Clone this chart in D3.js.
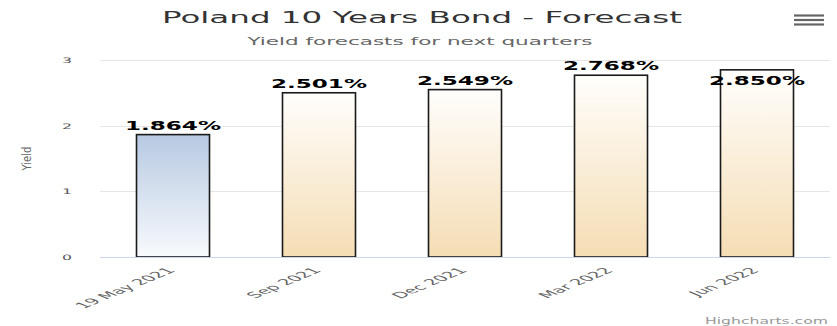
<!DOCTYPE html>
<html>
<head>
<meta charset="utf-8">
<script src="https://cdn.jsdelivr.net/npm/d3@7"></script>
<style>
html,body{margin:0;padding:0;background:#fff;}
svg{display:block;font-family:"DejaVu Sans",Verdana,sans-serif;}
</style>
</head>
<body>
<svg id="chart" width="837" height="326"></svg>
<script>
const categories = ["19 May 2021", "Sep 2021", "Dec 2021", "Mar 2022", "Jun 2022"];
const yields = [1.864, 2.501, 2.549, 2.768, 2.850];
const labels = ["1.864%", "2.501%", "2.549%", "2.768%", "2.850%"];
const yTicks = [0, 1, 2, 3];
const titleText = "Poland 10 Years Bond - Forecast";
const subtitleText = "Yield forecasts for next quarters";
const yAxisTitle = "Yield";

const svg = d3.select("#chart");
const W = 837, H = 326;
const m = {left: 100, right: 7, top: 60, bottom: 69};
const x = d3.scaleBand().domain(categories).range([m.left, W - m.right]).paddingInner(0.5).paddingOuter(0.25);
const y = d3.scaleLinear().domain([0, 3]).range([H - m.bottom, m.top]);

const defs = svg.append("defs");
const g1 = defs.append("linearGradient").attr("id", "gBlue").attr("x1", 0).attr("y1", 0).attr("x2", 0).attr("y2", 1);
g1.append("stop").attr("offset", "0%").attr("stop-color", "#b7c9e2");
g1.append("stop").attr("offset", "100%").attr("stop-color", "#f8fafd");
const g2 = defs.append("linearGradient").attr("id", "gOrange").attr("x1", 0).attr("y1", 0).attr("x2", 0).attr("y2", 1);
g2.append("stop").attr("offset", "0%").attr("stop-color", "#fffefc");
g2.append("stop").attr("offset", "100%").attr("stop-color", "#f5ddb4");

// gridlines
svg.append("g").selectAll("line").data(yTicks.filter(d => d > 0)).join("line")
  .attr("x1", m.left).attr("x2", W - m.right)
  .attr("y1", d => Math.round(y(d)) + 0.5).attr("y2", d => Math.round(y(d)) + 0.5)
  .attr("stroke", "#e6e6e6").attr("stroke-width", 1);

// y tick labels
svg.append("g").selectAll("text").data(yTicks).join("text")
  .attr("x", 62).attr("y", d => y(d) + 3)
  .attr("font-size", 7.5).attr("fill", "#555")
  .attr("textLength", 10).attr("lengthAdjust", "spacingAndGlyphs")
  .text(d => d);

// y axis title
svg.append("text")
  .attr("transform", "translate(31," + ((m.top + H - m.bottom) / 2) + ") rotate(-90)")
  .attr("text-anchor", "middle").attr("font-size", 11.5).attr("fill", "#666")
  .attr("textLength", 24).attr("lengthAdjust", "spacingAndGlyphs")
  .text(yAxisTitle);

// bars
svg.append("g").selectAll("rect").data(yields).join("rect")
  .attr("x", (d, i) => x(categories[i]))
  .attr("width", x.bandwidth())
  .attr("y", d => y(d))
  .attr("height", d => y(0) - y(d))
  .attr("fill", (d, i) => i === 0 ? "url(#gBlue)" : "url(#gOrange)")
  .attr("stroke", "#1a1a1a").attr("stroke-width", 1.6);

// x axis line
svg.append("line").attr("x1", m.left).attr("x2", W - m.right)
  .attr("y1", Math.round(y(0)) + 0.5).attr("y2", Math.round(y(0)) + 0.5)
  .attr("stroke", "#ccd6eb").attr("stroke-width", 1);

// data labels
svg.append("g").selectAll("text").data(yields).join("text")
  .attr("x", (d, i) => x(categories[i]) + x.bandwidth() / 2)
  .attr("y", d => {
    const top = y(d);
    return (top - 5 - 9 < m.top - 1) ? top + 15 : top - 5;
  })
  .attr("text-anchor", "middle")
  .attr("font-size", 11.5).attr("font-weight", "bold").attr("fill", "#000")
  .attr("textLength", 96).attr("lengthAdjust", "spacingAndGlyphs")
  .text((d, i) => labels[i]);

// x labels
svg.append("g").selectAll("text").data(categories).join("text")
  .attr("transform", d => "translate(" + (x(d) + x.bandwidth() / 2 + 3) + "," + (y(0) + 14) + ") scale(1.6,0.66) rotate(-45)")
  .attr("text-anchor", "end")
  .attr("font-size", 12.5).attr("fill", "#666")
  .text(d => d);

// title
svg.append("text").attr("x", 422).attr("y", 23).attr("text-anchor", "middle")
  .attr("font-size", 15).attr("fill", "#333")
  .attr("textLength", 520).attr("lengthAdjust", "spacingAndGlyphs")
  .text(titleText);
svg.append("text").attr("x", 420).attr("y", 45).attr("text-anchor", "middle")
  .attr("font-size", 10.5).attr("fill", "#666")
  .attr("textLength", 345).attr("lengthAdjust", "spacingAndGlyphs")
  .text(subtitleText);

// menu icon
svg.append("g").selectAll("line").data([15.5, 20, 24.5]).join("line")
  .attr("x1", 794).attr("x2", 824).attr("y1", d => d).attr("y2", d => d)
  .attr("stroke", "#666").attr("stroke-width", 2.2);

// credits
svg.append("text").attr("x", 828).attr("y", 324).attr("text-anchor", "end")
  .attr("font-size", 8.5).attr("fill", "#999")
  .attr("textLength", 123).attr("lengthAdjust", "spacingAndGlyphs")
  .text("Highcharts.com");
</script>
</body>
</html>
